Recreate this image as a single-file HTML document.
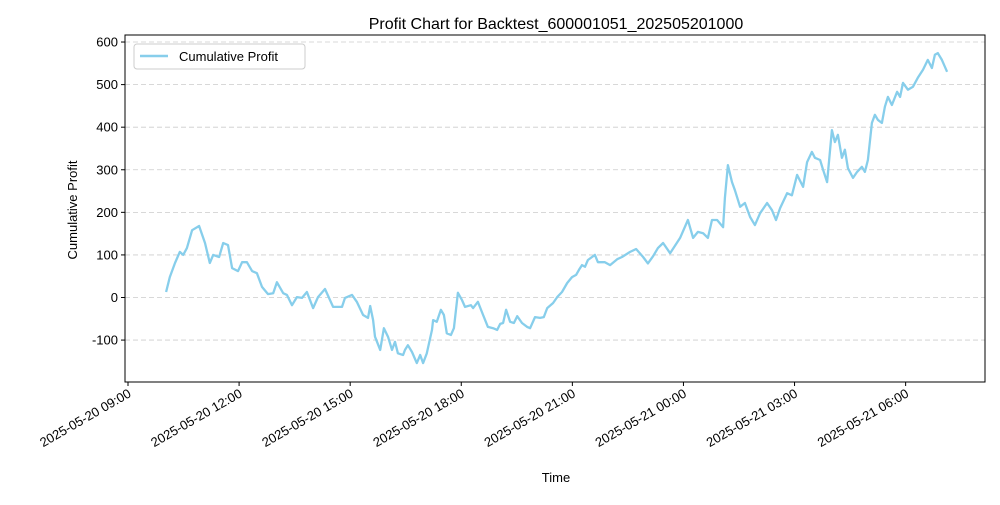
<!DOCTYPE html>
<html><head><meta charset="utf-8"><style>
body{margin:0;background:#fff;}
svg text{font-family:"Liberation Sans","DejaVu Sans",sans-serif;fill:#000;}
</style></head><body>
<svg width="1000" height="500" viewBox="0 0 1000 500" id="chart">
<rect x="0" y="0" width="1000" height="500" fill="#fff"/>
<text x="556" y="29" font-size="16" text-anchor="middle">Profit Chart for Backtest_600001051_202505201000</text>
<text x="0" y="0" font-size="13" text-anchor="middle" transform="translate(77,210) rotate(-90)">Cumulative Profit</text>
<text x="556" y="482" font-size="13" text-anchor="middle">Time</text>
<g id="grid"></g><g id="series"></g>
<rect x="125" y="35" width="860" height="347" fill="none" stroke="#000" stroke-width="1"/>
<g id="axes"></g>
<g>
<rect x="134" y="44" width="171" height="25" rx="3" fill="#fff" fill-opacity="0.8" stroke="#ccc"/>
<line x1="140" y1="56" x2="168" y2="56" stroke="#87CEEB" stroke-width="2.5"/>
<text x="179" y="61" font-size="13">Cumulative Profit</text>
</g>
</svg>
<script>
// hours since 2025-05-20 09:00
const times=[1.03,1.13,1.27,1.40,1.49,1.59,1.73,1.92,2.08,2.21,2.30,2.46,2.57,2.70,2.81,2.97,3.08,3.21,3.35,3.48,3.62,3.78,3.92,4.02,4.19,4.29,4.43,4.56,4.70,4.83,5.00,5.13,5.32,5.54,5.78,5.86,6.05,6.18,6.35,6.48,6.54,6.62,6.67,6.81,6.91,7.02,7.13,7.21,7.29,7.43,7.48,7.56,7.67,7.80,7.89,7.97,8.07,8.21,8.24,8.34,8.45,8.53,8.61,8.72,8.80,8.91,9.02,9.10,9.26,9.32,9.45,9.59,9.72,9.86,9.97,10.05,10.13,10.21,10.32,10.42,10.51,10.64,10.78,10.86,10.99,11.13,11.23,11.32,11.48,11.59,11.72,11.86,11.99,12.10,12.18,12.26,12.34,12.42,12.61,12.69,12.88,13.02,13.21,13.34,13.56,13.72,13.91,14.04,14.18,14.31,14.45,14.64,14.91,15.12,15.26,15.39,15.53,15.66,15.77,15.91,16.07,16.12,16.20,16.31,16.39,16.53,16.66,16.80,16.93,17.07,17.26,17.39,17.50,17.61,17.80,17.93,18.07,18.23,18.34,18.47,18.55,18.69,18.77,18.88,19.01,19.09,19.17,19.28,19.36,19.44,19.58,19.69,19.82,19.90,19.98,20.09,20.17,20.25,20.36,20.44,20.52,20.63,20.77,20.85,20.93,21.06,21.20,21.33,21.47,21.60,21.71,21.79,21.87,21.98,22.12];
const profits=[13,48,81,107,100,116,158,168,128,81,100,95,128,123,69,62,83,83,62,57,25,8,10,36,10,6,-18,1,-1,13,-25,1,20,-22,-22,-1,6,-10,-41,-48,-20,-53,-92,-123,-72,-92,-123,-104,-131,-135,-123,-112,-128,-154,-135,-154,-131,-76,-53,-57,-29,-41,-84,-88,-72,11,-6,-22,-18,-25,-10,-41,-69,-72,-76,-62,-60,-29,-57,-60,-44,-60,-69,-72,-46,-48,-46,-25,-13,1,13,34,48,53,65,76,72,88,100,83,83,76,90,95,107,114,95,80,97,116,128,104,140,182,140,154,151,140,182,182,165,234,311,271,252,213,222,189,170,198,222,205,182,210,245,240,288,260,318,342,328,323,300,271,393,365,382,328,347,304,281,295,307,295,323,410,429,417,410,448,471,452,483,471,504,488,495,516,535,558,539,570,574,558,530,511];
const yTicks=[-100,0,100,200,300,400,500,600];
const xTickHours=[0,3,6,9,12,15,18,21];
const xTickLabels=["2025-05-20 09:00","2025-05-20 12:00","2025-05-20 15:00","2025-05-20 18:00","2025-05-20 21:00","2025-05-21 00:00","2025-05-21 03:00","2025-05-21 06:00"];
const NS="http://www.w3.org/2000/svg";
const xs=h=>128+h*37.03;
const ys=v=>297.5-v*0.4258;
const grid=document.getElementById('grid'),axes=document.getElementById('axes'),ser=document.getElementById('series');
yTicks.forEach(v=>{
  const y=ys(v);
  const g=document.createElementNS(NS,'line');
  
  
  g.setAttribute('x1',125);g.setAttribute('x2',985);g.setAttribute('y1',y);g.setAttribute('y2',y);
  g.setAttribute('stroke','#ccc');g.setAttribute('stroke-dasharray','5,3');g.setAttribute('stroke-width','0.8');
  grid.appendChild(g);
  const t=document.createElementNS(NS,'line');
  
  
  t.setAttribute('x1',121);t.setAttribute('x2',125);t.setAttribute('y1',y);t.setAttribute('y2',y);t.setAttribute('stroke','#000');
  axes.appendChild(t);
  const l=document.createElementNS(NS,'text');
  
  
  l.setAttribute('x',118);l.setAttribute('y',y+4.5);l.setAttribute('text-anchor','end');l.setAttribute('font-size','13');
  l.textContent=v;axes.appendChild(l);
});
xTickHours.forEach((h,i)=>{
  const x=xs(h);
  const t=document.createElementNS(NS,'line');
  
  
  t.setAttribute('x1',x);t.setAttribute('x2',x);t.setAttribute('y1',382);t.setAttribute('y2',386);t.setAttribute('stroke','#000');
  axes.appendChild(t);
  const l=document.createElementNS(NS,'text');
  
  
  l.setAttribute('font-size','13');l.setAttribute('text-anchor','end');
  l.setAttribute('transform','translate('+(x+4)+',396) rotate(-30)');
  l.textContent=xTickLabels[i];axes.appendChild(l);
});
const p=document.createElementNS(NS,'polyline');


p.setAttribute('points',times.map((h,i)=>xs(h).toFixed(1)+','+ys(profits[i]).toFixed(1)).join(' '));
p.setAttribute('fill','none');p.setAttribute('stroke','#87CEEB');p.setAttribute('stroke-width','2.3');p.setAttribute('stroke-linejoin','round');
ser.appendChild(p);
</script>
</body></html>
